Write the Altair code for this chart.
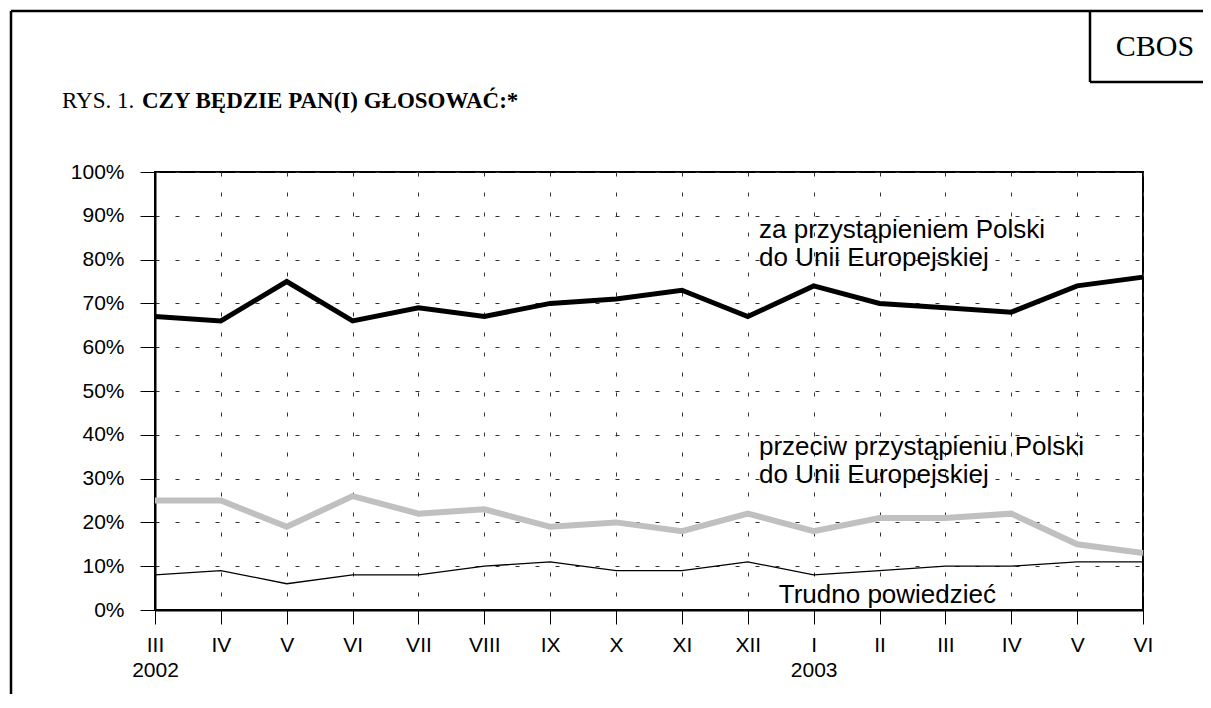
import json
import altair as alt
import pandas as pd

# ---- data ----
months = ["III", "IV", "V", "VI", "VII", "VIII", "IX", "X", "XI", "XII",
          "I", "II", "III", "IV", "V", "VI"]
years = ["2002", "", "", "", "", "", "", "", "", "", "2003", "", "", "", "", ""]
za = [67, 66, 75, 66, 69, 67, 70, 71, 73, 67, 74, 70, 69, 68, 74, 76]
przeciw = [25, 25, 19, 26, 22, 23, 19, 20, 18, 22, 18, 21, 21, 22, 15, 13]
trudno = [8, 9, 6, 8, 8, 10, 11, 9, 9, 11, 8, 9, 10, 10, 11, 11]
y_ticks = list(range(0, 101, 10))

series_names = ["za", "przeciw", "trudno"]
series_values = [za, przeciw, trudno]

ann_text = ["za przystąpieniem Polski", "do Unii Europejskiej",
            "przeciw przystąpieniu Polski", "do Unii Europejskiej",
            "Trudno powiedzieć"]
ann_x = [9.17, 9.17, 9.17, 9.17, 9.47]
ann_y = [86.8, 80.4, 37.3, 30.8, 3.4]

rows = []
for name, vals in zip(series_names, series_values):
    for i, v in enumerate(vals):
        rows.append({"series": name, "idx": i, "value": v})
df = pd.DataFrame(rows)
ann = pd.DataFrame({"text": ann_text, "x": ann_x, "y": ann_y})
one = pd.DataFrame({"k": [0]})

label_lines = [[m, y] if y else m for m, y in zip(months, years)]
x_label_expr = json.dumps(label_lines, ensure_ascii=False) + "[datum.value]"

xscale = alt.Scale(domain=[0, len(months) - 1], nice=False, zero=False)
yscale = alt.Scale(domain=[0, 100], nice=False)

xenc = alt.X("idx:Q", scale=xscale, title=None,
             axis=alt.Axis(values=list(range(len(months))), labelExpr=x_label_expr,
                           tickSize=14, labelPadding=10, labelLineHeight=25,
                           labelFlush=False, labelOverlap=False, labelBound=False))
yenc = alt.Y("value:Q", scale=yscale, title=None,
             axis=alt.Axis(values=y_ticks, labelExpr="datum.value + '%'",
                           tickSize=15, labelPadding=16, labelFlush=False,
                           labelOverlap=False, labelBound=False))

base = alt.Chart(df)
gray = base.transform_filter("datum.series == 'przeciw'").mark_line(
    color="#c0c0c0", strokeWidth=6).encode(x=xenc, y=yenc)
thin = base.transform_filter("datum.series == 'trudno'").mark_line(
    color="black", strokeWidth=1.3).encode(x="idx:Q", y="value:Q")
black = base.transform_filter("datum.series == 'za'").mark_line(
    color="black", strokeWidth=5).encode(x="idx:Q", y="value:Q")

annot = alt.Chart(ann).mark_text(
    align="left", baseline="middle", font="Liberation Sans", fontSize=26,
    color="black").encode(x="x:Q", y="y:Q", text="text:N")

# frame & header (pixel offsets relative to the plot area)
def rule(x, x2, y, y2):
    return alt.Chart(one).mark_rule(color="black", strokeWidth=2.5).encode(
        x=alt.value(x), x2=alt.value(x2), y=alt.value(y), y2=alt.value(y2))

frame = [
    rule(-144, -144, -161, 540),
    rule(-144, 1060, -161, -161),
    rule(935, 935, -161, -90),
    rule(935, 1060, -90, -90),
]

title_a = alt.Chart(one).mark_text(
    align="left", baseline="alphabetic", font="Liberation Serif", fontSize=23,
    color="black").encode(x=alt.value(-93), y=alt.value(-64), text=alt.value("RYS. 1."))
title_b = alt.Chart(one).mark_text(
    align="left", baseline="alphabetic", font="Liberation Serif", fontSize=23,
    fontWeight="bold", color="black").encode(
    x=alt.value(-13), y=alt.value(-64), text=alt.value("CZY BĘDZIE PAN(I) GŁOSOWAĆ:*"))
cbos = alt.Chart(one).mark_text(
    align="center", baseline="middle", font="Liberation Serif", fontSize=30,
    color="black").encode(x=alt.value(1000), y=alt.value(-125), text=alt.value("CBOS"))

chart = alt.layer(gray, thin, black, annot, title_a, title_b, cbos, *frame).properties(
    width=988, height=438,
    padding={"left": 147, "top": 164, "right": 60, "bottom": 84},
    autosize=alt.AutoSizeParams(type="none"),
    background="white",
).configure_view(stroke="black", strokeWidth=2).configure_axis(
    grid=True, gridColor="#333333", gridDash=[4, 16], gridWidth=1,
    domainColor="black", domainWidth=2, tickColor="black", tickWidth=1,
    labelFont="Liberation Sans", labelFontSize=21, labelColor="black",
)

chart.save("out.html", embed_options={"renderer": "svg", "actions": False})
